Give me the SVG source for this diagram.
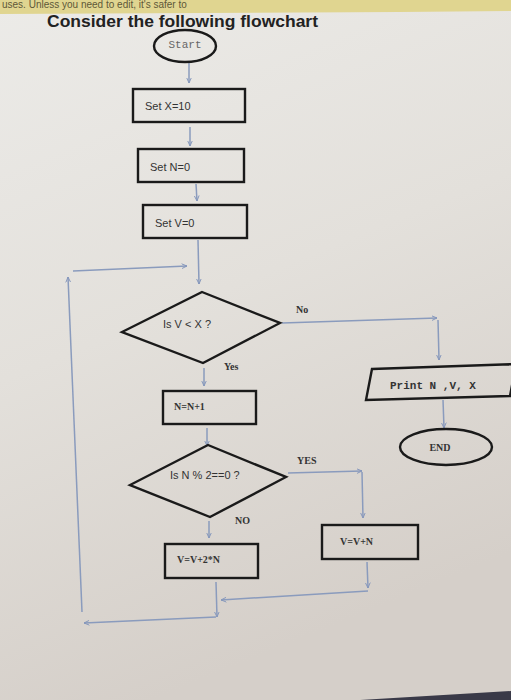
<svg xmlns="http://www.w3.org/2000/svg" width="511" height="700" viewBox="0 0 511 700">
<defs>
<linearGradient id="bg" x1="0" y1="0" x2="0.3" y2="1">
<stop offset="0" stop-color="#ecebe8"/>
<stop offset="0.5" stop-color="#e3e0db"/>
<stop offset="1" stop-color="#d5cfc9"/>
</linearGradient>
<marker id="ah" viewBox="0 0 10 10" refX="9" refY="5" markerWidth="6" markerHeight="6" orient="auto-start-reverse" markerUnits="userSpaceOnUse">
<path d="M0,1 L9,5 L0,9" fill="none" stroke="#8496bb" stroke-width="1.6"/>
</marker>
<style>
.shape{fill:none;stroke:#1a1a1a;stroke-width:2.4}
.ca{fill:none;stroke:#8a9bbd;stroke-width:1.5;marker-end:url(#ah)}
.t{font-family:"Liberation Sans",Arial,sans-serif;font-size:11px;fill:#333}
.m{font-family:"Liberation Mono","Courier New",monospace;font-size:11px;fill:#333;font-weight:bold}
.s{font-family:"Liberation Serif","Times New Roman",serif;font-size:10px;font-weight:bold;fill:#333}
</style>
</defs>
<rect x="0" y="0" width="511" height="700" fill="url(#bg)"/>
<polygon points="0,0 511,0 511,11 400,12 0,14" fill="#e0d590"/>
<text x="2" y="8" font-family="Liberation Sans,Arial,sans-serif" font-size="10" fill="#5e5838">uses. Unless you need to edit, it's safer to</text>
<polygon points="360,700 511,691 511,700" fill="#3a3a48"/>
<text x="47" y="27" font-family="Liberation Sans,Arial,sans-serif" font-size="17" font-weight="bold" fill="#222" textLength="271" lengthAdjust="spacingAndGlyphs">Consider the following flowchart</text>

<g id="connectors">
<line class="ca" x1="189" y1="63" x2="189" y2="83"/>
<line class="ca" x1="190" y1="127" x2="190" y2="146"/>
<line class="ca" x1="196" y1="184" x2="197" y2="201"/>
<line class="ca" x1="198" y1="240" x2="199" y2="284"/>
<line class="ca" x1="82" y1="612" x2="68" y2="277"/>
<line class="ca" x1="73" y1="271" x2="187" y2="266"/>
<line class="ca" x1="282" y1="323" x2="437" y2="318"/>
<line class="ca" x1="438" y1="320" x2="439" y2="360"/>
<line class="ca" x1="443" y1="400" x2="444" y2="428"/>
<line class="ca" x1="204" y1="368" x2="204" y2="386"/>
<line class="ca" x1="207" y1="428" x2="207" y2="446"/>
<line class="ca" x1="288" y1="473" x2="362" y2="471"/>
<line class="ca" x1="362" y1="472" x2="363" y2="518"/>
<line class="ca" x1="209" y1="521" x2="209" y2="538"/>
<line class="ca" x1="367" y1="562" x2="368" y2="588"/>
<line class="ca" x1="368" y1="591" x2="221" y2="600"/>
<line class="ca" x1="216" y1="582" x2="217" y2="617"/>
<line class="ca" x1="216" y1="617" x2="84" y2="623"/>
</g>

<g id="start"><ellipse class="shape" cx="185" cy="46" rx="31" ry="16"/>
<text x="185" y="48" text-anchor="middle" font-family="Liberation Mono,Courier New,monospace" font-size="11" fill="#666">Start</text></g>
<g id="setx"><rect class="shape" x="133" y="89" width="112" height="33"/><text class="t" x="145" y="110">Set  X=10</text></g>
<g id="setn"><rect class="shape" x="138" y="149" width="106" height="33"/><text class="t" x="150" y="171">Set N=0</text></g>
<g id="setv"><rect class="shape" x="143" y="205" width="104" height="33"/><text class="t" x="155" y="227">Set V=0</text></g>
<g id="dec1"><polygon class="shape" points="202,292 280,323 203,363 122,332"/>
<text class="t" x="163" y="328">Is V &lt; X ?</text></g>
<text class="s" x="296" y="313">No</text>
<text class="s" x="224" y="370">Yes</text>
<g id="print"><polygon class="shape" points="372,369 516,364 510,396 366,400"/>
<text class="m" x="390" y="389">Print N  ,V, X</text></g>
<g id="end"><ellipse class="shape" cx="446" cy="447" rx="46" ry="18"/>
<text class="s" x="440" y="451" text-anchor="middle">END</text></g>
<g id="inc"><rect class="shape" x="163" y="391" width="93" height="33"/><text class="s" x="174" y="410">N=N+1</text></g>
<g id="dec2"><polygon class="shape" points="208,445 286,477 210,517 130,485"/>
<text class="t" x="170" y="479">Is N % 2==0 ?</text></g>
<text class="s" x="297" y="464">YES</text>
<text class="s" x="235" y="524">NO</text>
<g id="vvn"><rect class="shape" x="322" y="525" width="96" height="34"/><text class="s" x="340" y="545">V=V+N</text></g>
<g id="vv2n"><rect class="shape" x="165" y="544" width="93" height="34"/><text class="s" x="177" y="563">V=V+2*N</text></g>
</svg>
